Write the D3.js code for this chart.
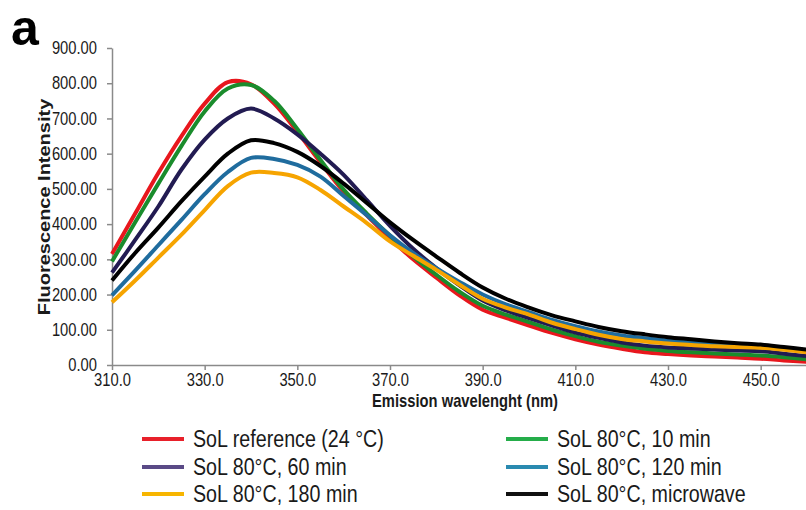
<html>
<head>
<meta charset="utf-8">
<script src="https://d3js.org/d3.v7.min.js"></script>
<style>
  body { margin: 0; background: #fff; }
  text { font-family: "Liberation Sans", Arial, sans-serif; fill: #1a1a1a; }
</style>
</head>
<body>
<script>
// wavelength grid (nm)
const wavelengths = [310,315,320,325,330,335,340,345,350,355,360,365,370,375,380,385,390,
                     395,400,405,410,415,420,425,430,435,440,445,450,455,460];

// fluorescence intensity
const solRef24 = [315,430,545,650,742,803,797,742,662,575,492,425,360,300,248,198,157,
                  134,112,91,73,58,46,36,31,27,24,21,18,13,9];
const sol10min = [294,405,515,622,720,785,795,750,670,582,498,430,367,308,256,208,168,
                  143,122,100,82,66,55,46,40,36,33,30,27,22,16];
const sol60min = [262,355,450,555,640,700,728,700,655,600,540,468,395,330,275,226,183,
                  155,133,112,92,77,64,55,50,47,44,41,39,32,25];
const sol120min = [198,268,340,412,485,548,588,585,568,535,480,425,368,318,275,236,200,
                   172,150,128,110,95,84,76,70,64,59,55,52,47,40];
const sol180min = [178,240,305,370,440,508,546,545,533,497,450,403,351,310,270,228,188,
                   163,143,120,102,86,74,67,61,57,53,51,49,43,36];
const solMicro = [240,318,390,465,535,600,638,630,605,565,515,460,405,355,308,262,220,
                  188,163,141,124,108,96,87,79,73,67,62,58,51,44];

const xTicks = [310,330,350,370,390,410,430,450];
const yTicks = [0,100,200,300,400,500,600,700,800,900];

const seriesNames = ["SoL reference (24 °C)", "SoL 80°C, 10 min", "SoL 80°C, 60 min",
                     "SoL 80°C, 120 min", "SoL 80°C, 180 min", "SoL 80°C, microwave"];
const seriesValues = [solRef24, sol10min, sol60min, sol120min, sol180min, solMicro];
const lineColors = ["#e8171d", "#1a8c2c", "#221b52", "#1f6c9e", "#f6a400", "#000000"];
const legendColors = ["#e8202a", "#25ad4a", "#5a4a86", "#2a8ab0", "#f7b500", "#111111"];

const svg = d3.select("body").append("svg")
    .attr("width", 806)
    .attr("height", 510);

const xScale = d3.scaleLinear().domain([310, 460]).range([112, 807]);
const yScale = d3.scaleLinear().domain([0, 900]).range([365, 48]);
const narrow = 0.82;

// axes
let xAxis = svg.append("g")
    .attr("transform", "translate(0," + yScale(0) + ")")
    .call(d3.axisBottom(xScale).tickValues(xTicks).tickFormat(d3.format(".1f"))
          .tickSize(5).tickSizeOuter(0).tickPadding(3));
xAxis.selectAll("text")
    .style("font-size", "18px")
    .attr("transform", "scale(" + narrow + ",1)");

let yAxis = svg.append("g")
    .attr("transform", "translate(" + xScale(310) + ",0)")
    .call(d3.axisLeft(yScale).tickValues(yTicks).tickFormat(d3.format(".2f"))
          .tickSize(5).tickSizeOuter(0));
yAxis.selectAll("text")
    .style("font-size", "18px")
    .attr("x", -15 / narrow)
    .attr("transform", "scale(" + narrow + ",1)");

svg.selectAll(".domain, .tick line")
    .attr("stroke", "#8a8a8a")
    .attr("stroke-width", 1.5);

// curves
let lineGen = d3.line()
    .x((d, i) => xScale(wavelengths[i]))
    .y(d => yScale(d))
    .curve(d3.curveCatmullRom.alpha(0.5));

// draw order: red under green, black on top
svg.append("g").selectAll("path")
    .data(d3.range(seriesValues.length))
    .join("path")
    .attr("fill", "none")
    .attr("stroke", i => lineColors[i])
    .attr("stroke-width", 4)
    .attr("stroke-linejoin", "round")
    .attr("d", i => lineGen(seriesValues[i]));

// axis titles
svg.append("text")
    .attr("transform", "translate(44,207) rotate(-90) scale(1," + narrow + ")")
    .attr("text-anchor", "middle")
    .attr("dy", "0.35em")
    .style("font-size", "20px")
    .style("font-weight", "bold")
    .text("Fluorescence Intensity");

svg.append("text")
    .attr("transform", "translate(465,407) scale(" + narrow + ",1)")
    .attr("text-anchor", "middle")
    .style("font-size", "18px")
    .style("font-weight", "bold")
    .text("Emission wavelenght (nm)");

// panel letter
svg.append("text")
    .attr("x", 11)
    .attr("y", 45)
    .style("font-size", "50px")
    .style("font-weight", "bold")
    .style("fill", "#000")
    .text("a");

// legend: two columns, three rows (row-major)
const colX = [142, 506];
const rowY = [439, 467, 494];
let legend = svg.append("g").selectAll("g")
    .data(d3.range(seriesNames.length))
    .join("g")
    .attr("transform", (d, k) => "translate(" + colX[k % 2] + "," + rowY[Math.floor(k / 2)] + ")");
legend.append("line")
    .attr("x1", 0).attr("x2", 42)
    .attr("stroke", i => legendColors[i])
    .attr("stroke-width", 4);
legend.append("text")
    .attr("transform", "translate(51,0) scale(" + narrow + ",1)")
    .attr("dy", "0.35em")
    .style("font-size", "24px")
    .text(i => seriesNames[i]);
</script>
</body>
</html>
